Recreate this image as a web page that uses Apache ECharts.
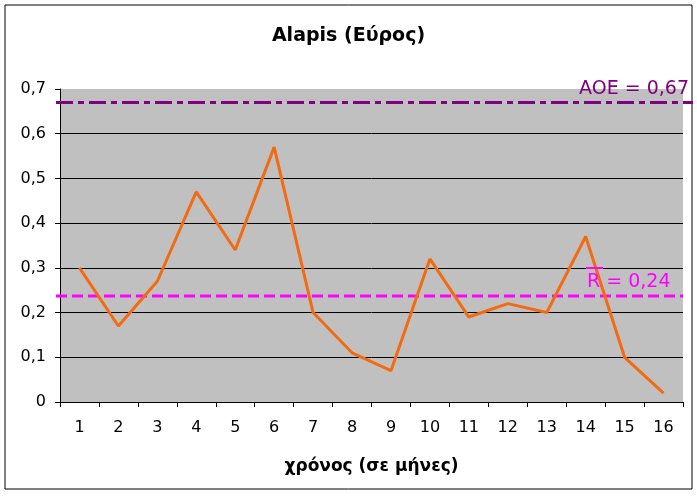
<!DOCTYPE html>
<html>
<head>
<meta charset="utf-8">
<script src="https://cdn.jsdelivr.net/npm/echarts@6/dist/echarts.min.js"></script>
<style>
html,body{margin:0;padding:0;background:#fff;}
#chart{width:697px;height:496px;}
</style>
</head>
<body>
<div id="chart"></div>
<script>
const categories = ['1','2','3','4','5','6','7','8','9','10','11','12','13','14','15','16'];
const values = [0.30, 0.17, 0.27, 0.47, 0.34, 0.57, 0.20, 0.11, 0.07, 0.32, 0.19, 0.22, 0.20, 0.37, 0.10, 0.02];
const meanR = 0.237;
const meanRLabel = '0,24';
const aoe = 0.67;
const aoeLabel = '0,67';
const titleText = 'Alapis (Εύρος)';
const xName = 'χρόνος (σε μήνες)';

const FONT = 'DejaVu Sans';
const chart = echarts.init(document.getElementById('chart'));

const option = {
  backgroundColor: '#ffffff',
  animation: false,
  title: {
    text: titleText,
    left: 'center',
    top: 27,
    padding: 0,
    textStyle: {fontFamily: FONT, fontSize: 19, fontWeight: 'bold', color: '#000'}
  },
  grid: {left: 60, right: 14, top: 89, bottom: 94, show: true, backgroundColor: '#c0c0c0', borderWidth: 0},
  xAxis: {
    type: 'category',
    data: categories,
    boundaryGap: true,
    name: xName,
    nameLocation: 'middle',
    nameGap: 56,
    nameTextStyle: {fontFamily: FONT, fontSize: 17, fontWeight: 'bold', color: '#000'},
    axisLine: {lineStyle: {color: '#000', width: 1}},
    axisTick: {show: true, length: 5, alignWithLabel: false, lineStyle: {color: '#000'}},
    axisLabel: {margin: 18, fontFamily: FONT, fontSize: 16, color: '#000'},
    splitLine: {show: false}
  },
  yAxis: {
    type: 'value',
    min: 0, max: 0.7, interval: 0.1,
    axisLine: {show: true, lineStyle: {color: '#000', width: 1}},
    axisTick: {show: true, length: 5, lineStyle: {color: '#000'}},
    axisLabel: {margin: 14, fontFamily: FONT, fontSize: 16, color: '#000',
      formatter: v => (Math.round(v * 10) / 10).toString().replace('.', ',')},
    splitLine: {show: true, showMinLine: false, showMaxLine: false, lineStyle: {color: '#000', width: 1}}
  },
  series: [{
    type: 'line',
    data: values,
    symbol: 'none',
    lineStyle: {color: '#f26b12', width: 3},
    z: 3
  }]
};
chart.setOption(option);

const gridLeft = 60, gridRight = 697 - 14;
const yR = chart.convertToPixel({yAxisIndex: 0}, meanR);
const yA = chart.convertToPixel({yAxisIndex: 0}, aoe);

chart.setOption({
  graphic: [
    {type: 'rect', z: -10, silent: true, shape: {x: 5, y: 5, width: 687, height: 484},
      style: {fill: 'none', stroke: '#000', lineWidth: 1}},
    {type: 'line', z: 1, silent: true, shape: {x1: gridLeft - 4, y1: yR, x2: gridRight, y2: yR},
      style: {stroke: '#ff00ff', lineWidth: 3, lineDash: [11, 5]}},
    {type: 'line', z: 1, silent: true, shape: {x1: gridLeft - 4, y1: yA, x2: 693, y2: yA},
      style: {stroke: '#800080', lineWidth: 3, lineDash: [17, 5, 6, 5]}},
    {type: 'text', z: 5, silent: true, x: 587, y: yR - 14,
      style: {text: 'R = ' + meanRLabel, fill: '#ff00ff', font: '19px "' + FONT + '"', textVerticalAlign: 'middle', textAlign: 'left'}},
    {type: 'line', z: 5, silent: true, shape: {x1: 586, y1: yR - 28, x2: 603, y2: yR - 28},
      style: {stroke: '#ff00ff', lineWidth: 2}},
    {type: 'text', z: 5, silent: true, x: 689, y: yA - 13,
      style: {text: 'AOE = ' + aoeLabel, fill: '#800080', font: '19px "' + FONT + '"', textVerticalAlign: 'middle', textAlign: 'right'}}
  ]
});
</script>
</body>
</html>
